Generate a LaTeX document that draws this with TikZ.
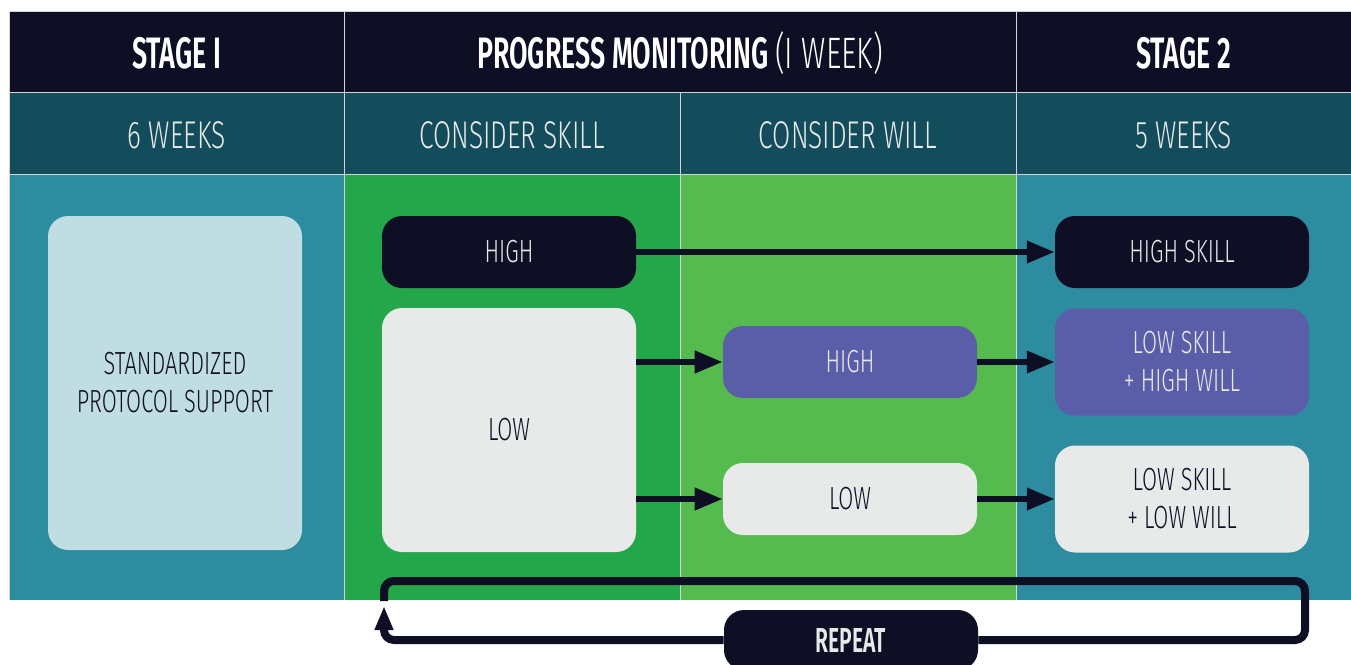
\documentclass[tikz,border=0pt]{standalone}
\usepackage{fontspec}
\setmainfont{Fira Sans}[UprightFont={* Light}, UprightFeatures={FakeStretch=0.68}, BoldFeatures={FakeStretch=0.61}]
\usetikzlibrary{arrows.meta}
\definecolor{navy}{HTML}{0E0F24}
\definecolor{deepteal}{HTML}{134C5A}
\definecolor{stageteal}{HTML}{2E8CA0}
\definecolor{skillgreen}{HTML}{24A74A}
\definecolor{willgreen}{HTML}{55BB4E}
\definecolor{paper}{HTML}{E8E9E9}
\definecolor{violet}{HTML}{5A5EA8}
\definecolor{iceblue}{HTML}{C0DDE1}
\definecolor{gridgray}{HTML}{D2D4D6}
\tikzset{
  headtxt/.style={text=white, font=\fontsize{33}{36}\selectfont},
  subtxt/.style={text=paper, font=\fontsize{29}{32}\selectfont},
  box/.style={rounded corners=15pt, minimum width=190.5pt, minimum height=54pt,
    inner sep=0pt, align=center, font=\fontsize{24}{28.5}\selectfont},
  darkbox/.style={box, fill=navy, text=paper},
  lightbox/.style={box, fill=paper, text=navy},
  violetbox/.style={box, fill=violet, text=paper},
  arr/.style={draw=navy, line width=4.5pt, -{Triangle[length=21pt,width=16pt]}},
  loopline/.style={draw=navy, line width=6pt, rounded corners=7.5pt}
}
\begin{document}
\begin{tikzpicture}[x=0.75pt,y=-0.75pt]
  \useasboundingbox (0,0) rectangle (1351,664);
  \clip (0,0) rectangle (1351,664);
  % table
  \fill[navy] (9,11) rectangle (1351,92);
  \fill[deepteal] (9,92) rectangle (1351,174);
  \fill[stageteal] (9,174) rectangle (344,600);
  \fill[skillgreen] (344,174) rectangle (680,600);
  \fill[willgreen] (680,174) rectangle (1016,600);
  \fill[stageteal] (1016,174) rectangle (1351,600);
  \draw[gridgray, line width=0.75pt] (9,11) -- (1351,11) (9,92) -- (1351,92) (9,174) -- (1351,174)
    (9,11) -- (9,600) (344,11) -- (344,600) (680,92) -- (680,600) (1016,11) -- (1016,600);
  \node[headtxt] (hStage1) at (176.5,53) {\bfseries STAGE I};
  \node[headtxt] (hMonitor) at (680,53) {\bfseries PROGRESS MONITORING \mdseries(I WEEK)};
  \node[headtxt] (hStage2) at (1183.5,53) {\bfseries STAGE 2};
  \node[subtxt] (sWeeks6) at (176.5,135) {6 WEEKS};
  \node[subtxt] (sSkill) at (512,135) {CONSIDER SKILL};
  \node[subtxt] (sWill) at (848,135) {CONSIDER WILL};
  \node[subtxt] (sWeeks5) at (1183.5,135) {5 WEEKS};
  % boxes
  \node[box, fill=iceblue, text=navy, minimum height=250.5pt] (protocol) at (175,383) {STANDARDIZED\\PROTOCOL SUPPORT};
  \node[darkbox] (skillHigh) at (509,252) {HIGH};
  \node[lightbox, minimum height=183pt] (skillLow) at (509,430) {LOW};
  \node[violetbox] (willHigh) at (850,362) {HIGH};
  \node[lightbox] (willLow) at (850,499) {LOW};
  \node[darkbox] (highSkill) at (1182,252) {HIGH SKILL};
  \node[violetbox, minimum height=80.25pt] (lowHigh) at (1182,362) {LOW SKILL\\+ HIGH WILL};
  \node[lightbox, minimum height=80.25pt] (lowLow) at (1182,499) {LOW SKILL\\+ LOW WILL};
  \node[darkbox, minimum height=45pt, font=\fontsize{26}{30}\selectfont] (repeat) at (851,640) {\bfseries REPEAT};
  % arrows
  \draw[arr] (skillHigh.east) -- (highSkill.west);
  \draw[arr] (skillLow.east |- willHigh.west) -- (willHigh.west);
  \draw[arr] (skillLow.east |- willLow.west) -- (willLow.west);
  \draw[arr] (willHigh.east) -- (lowHigh.west);
  \draw[arr] (willLow.east) -- (lowLow.west);
  % repeat loop
  \coordinate (loopSW) at (384,640);
  \coordinate (loopTip) at (384,606);
  \coordinate (loopSE) at (1305,640);
  \coordinate (loopNE) at (1305,581);
  \coordinate (loopNW) at (384,581);
  \coordinate (loopEnd) at (384,601);
  \draw[loopline, -{Triangle[length=18pt,width=13pt]}] (repeat.west) -- (loopSW) -- (loopTip);
  \draw[loopline] (repeat.east) -- (loopSE) -- (loopNE) -- (loopNW) -- (loopEnd);
\end{tikzpicture}
\end{document}
